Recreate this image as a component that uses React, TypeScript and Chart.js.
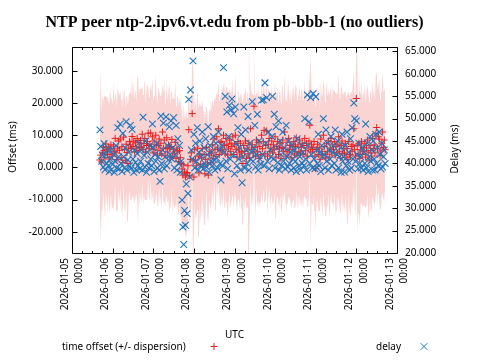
import React, { useEffect, useRef } from 'react';
import { Chart, registerables } from 'chart.js';

Chart.register(...registerables);

const TITLE = 'NTP peer ntp-2.ipv6.vt.edu from pb-bbb-1 (no outliers)';
const X_TITLE = 'UTC';
const Y_TITLE = 'Offset (ms)';
const Y2_TITLE = 'Delay (ms)';
const LEGEND_OFFSET = 'time offset (+/- dispersion)';
const LEGEND_DELAY = 'delay';

const DAY_LABELS = [
  '2026-01-05', '2026-01-06', '2026-01-07', '2026-01-08', '2026-01-09',
  '2026-01-10', '2026-01-11', '2026-01-12', '2026-01-13',
];
const TIME_LABEL = '00:00';
const HOURS_PER_DAY = 24;
const X_MAX_HOURS = 192;
const Y_MIN = -26.6;
const Y_MAX = 37.4;
const Y_STEP = 10;
const Y2_MIN = 20;
const Y2_MAX = 66;
const Y2_STEP = 5;

// samples: hours after 2026-01-05 00:00 UTC, one every half hour
const SAMPLE_START_HOUR = 16.5;
const SAMPLE_STEP_HOUR = 0.5;

const OFFSET_MS = [
  2.3, 3.8, 1.7, 4.5, 6.4, 5.2, 3.0, 7.3, 5.5, 4.0, 6.2, 2.6,
  5.8, 7.0, 4.2, 3.5, 6.6, 5.0, 9.0, 4.5, 2.4, 6.0, 8.2, 5.3,
  8.8, 3.0, 6.4, 1.5, 9.4, 5.5, 2.2, 7.2, 4.6, 1.2, 6.0, 8.0,
  7.0, 5.8, 9.6, 6.5, 8.2, 4.8, 7.6, 6.0, 9.0, 5.2, 7.8, 6.4,
  8.4, 6.2, 10.3, 5.5, 7.4, 9.0, 4.8, 6.8, 8.0, 10.6, 5.8, 7.2,
  10.7, 6.5, 9.5, 4.5, 8.2, 5.6, 10.0, 7.0, 3.8, 6.8, 8.8, 5.2,
  7.5, 4.2, 11.0, 6.0, 8.5, 3.6, 5.8, 9.2, 4.8, 7.0, 6.2, 3.2,
  6.5, 8.7, 3.2, 5.5, 4.2, 7.8, 2.8, 6.0, 4.8, 1.8, 5.2, 3.0,
  1.2, -0.5, -2.4, 0.8, -1.4, -3.0, -2.0, -1.6, 0.5, 11.7, -2.6, 2.5,
  4.5, 16.7, 2.0, -3.0, 5.5, 2.3, 0.5, 6.0, 3.5, -1.7, 4.2, 1.0,
  3.0, 5.8, 0.2, 4.0, -2.0, 2.5, 6.2, 1.0, -2.4, 3.8, 5.0, 1.5,
  4.5, 7.0, 2.8, 8.8, 5.5, 3.5, 9.5, 6.0, 12.0, 4.0, 7.8, 5.2,
  8.0, 5.5, 10.0, 6.8, 4.2, 9.0, 7.2, 3.8, 6.0, 8.5, 5.0, 7.5,
  6.5, 9.5, 4.0, 7.0, 10.0, 5.5, 3.2, 8.0, 6.0, 4.5, 7.5, 5.0,
  3.5, 1.2, 6.8, 5.0, 8.2, 2.8, 6.0, 4.2, 7.5, 3.0, 12.0, 5.5,
  7.0, 4.5, 19.0, 6.2, 3.5, 8.5, 5.0, 7.8, 2.8, 6.5, 4.0, 10.0,
  5.8, 8.0, 11.5, 4.2, 6.8, 11.3, 3.5, 7.2, 9.0, 5.0, 6.0, 8.2,
  4.5, 7.0, 5.5, 9.5, 3.2, 6.5, 8.0, 4.0, 5.8, 7.5, 2.8, 6.2,
  8.5, 5.0, 11.0, 6.0, 3.5, 7.8, 4.8, 9.0, 5.5, 6.8, 3.0, 7.0,
  5.5, 8.0, 4.2, 6.5, 9.2, 3.8, 7.0, 5.0, 8.5, 4.5, 6.2, 7.5,
  4.0, 6.8, 9.0, 5.2, 7.5, 3.5, 6.0, 8.2, 13.1, 4.8, 7.0, 5.5,
  6.3, 8.0, 3.5, -0.4, 5.5, 7.2, 4.0, 6.0, 2.5, 8.8, 5.0, 3.8,
  10.0, 6.5, 4.0, 2.9, 7.5, 5.0, 8.2, 3.2, 6.0, 9.0, 4.5, 7.0,
  5.5, 8.0, 3.8, 6.5, 4.5, 7.2, 9.5, 5.0, 3.0, 6.8, 8.2, 4.2,
  6.0, 4.5, 7.5, 3.2, 5.8, 2.5, 8.0, 4.0, 3.9, 6.5, 5.0, 7.0,
  12.0, 5.5, 3.5, 21.4, 6.8, 4.2, 7.5, 2.8, 5.5, 8.0, 4.0, 6.2,
  5.0, 7.5, 3.2, 6.0, 8.5, 4.5, 2.3, 6.8, 5.2, 3.5, 9.0, 5.8,
  7.0, 4.5, 10.4, 12.4, 6.0, 9.5, 8.8, 3.8, 5.1, 7.5, 11.0, 6.2,
  8.5, 5.5,
];

const DISPERSION_MS = [
  16, 27, 15, 18, 14, 17, 19, 15, 16, 18, 14, 17,
  18, 15, 17, 16, 20, 15, 14, 18, 16, 19, 15, 17,
  15, 18, 16, 17, 14, 19, 16, 15, 17, 18, 16, 15,
  17, 16, 19, 15, 18, 16, 17, 14, 19, 23, 15, 18,
  16, 18, 15, 17, 16, 19, 15, 17, 18, 14, 16, 17,
  15, 17, 18, 16, 14, 17, 19, 15, 16, 18, 15, 17,
  16, 18, 15, 17, 19, 16, 15, 18, 16, 17, 20, 16,
  17, 15, 18, 16, 17, 19, 16, 15, 18, 17, 16, 18,
  17, 18, 16, 19, 17, 18, 20, 17, 18, 16, 19, 17,
  18, 15, 35, 19, 17, 18, 16, 19, 17, 20, 16, 18,
  16, 15, 17, 14, 16, 15, 13, 16, 15, 14, 16, 15,
  15, 14, 16, 13, 15, 17, 14, 16, 15, 16, 14, 17,
  17, 18, 16, 19, 17, 16, 18, 20, 17, 16, 18, 17,
  16, 18, 17, 15, 19, 16, 17, 18, 16, 17, 15, 18,
  17, 19, 16, 18, 17, 16, 18, 17, 34, 19, 16, 18,
  16, 18, 17, 16, 19, 15, 17, 18, 16, 17, 15, 18,
  17, 16, 18, 15, 17, 16, 18, 17, 15, 18, 16, 17,
  16, 18, 15, 17, 19, 16, 17, 15, 18, 16, 17, 19,
  17, 15, 18, 16, 17, 19, 16, 18, 15, 17, 16, 18,
  16, 18, 17, 19, 16, 17, 15, 18, 17, 16, 18, 17,
  17, 16, 18, 15, 17, 16, 18, 17, 16, 30, 18, 17,
  18, 16, 17, 19, 16, 18, 17, 20, 16, 18, 17, 19,
  17, 19, 16, 18, 20, 17, 16, 19, 18, 17, 16, 18,
  18, 16, 19, 17, 18, 16, 20, 17, 18, 19, 16, 18,
  17, 19, 16, 18, 17, 20, 16, 18, 19, 17, 18, 16,
  18, 17, 19, 17, 28, 16, 22, 21, 17, 19, 16, 18,
  17, 19, 16, 18, 17, 19, 18, 16, 19, 17, 18, 16,
  18, 16, 19, 17, 18, 16, 19, 17, 18, 16, 19, 17,
  16, 18,
];

const DELAY_MS = [
  47.5, 43.8, 40.5, 41.9, 39.2, 44.4, 38.6, 42.0, 40.0, 43.0, 39.5, 38.2,
  41.0, 38.5, 43.2, 39.8, 42.0, 38.0, 40.5, 44.0, 39.0, 48.0, 41.5, 38.8,
  48.8, 40.0, 38.2, 46.7, 41.5, 39.0, 43.5, 49.3, 38.5, 40.8, 42.5, 39.5,
  48.5, 39.0, 47.6, 41.0, 38.0, 43.0, 40.2, 38.5, 42.2, 39.5, 44.5, 38.8,
  40.5, 43.0, 38.5, 50.3, 41.8, 39.2, 45.0, 38.0, 42.5, 40.0, 39.0, 44.0,
  41.0, 39.5, 48.8, 43.5, 38.2, 42.0, 40.5, 44.5, 39.0, 41.5, 38.5, 36.0,
  50.6, 40.0, 43.0, 49.0, 38.8, 41.5, 50.4, 39.5, 44.0, 40.8, 48.2, 42.0,
  49.5, 41.0, 43.5, 50.2, 39.0, 42.0, 48.5, 38.5, 45.5, 40.0, 44.0, 38.0,
  40.5, 31.8, 25.8, 21.9, 29.5, 26.2, 35.4, 28.8, 33.3, 54.3, 37.0, 56.4,
  43.0, 41.0, 62.9, 46.5, 39.0, 44.5, 40.5, 48.0, 38.5, 42.5, 45.0, 39.5,
  41.5, 47.0, 38.8, 43.5, 40.0, 45.5, 39.2, 42.0, 48.2, 38.0, 44.0, 40.5,
  42.5, 39.5, 46.0, 40.8, 38.5, 44.5, 41.2, 39.0, 47.0, 43.0, 40.0, 36.3,
  44.0, 39.5, 61.4, 42.5, 55.0, 40.5, 51.5, 38.8, 46.0, 53.0, 41.0, 52.0,
  54.4, 42.0, 51.1, 37.7, 52.6, 44.5, 39.5, 48.0, 41.0, 43.5, 38.5, 46.5,
  35.7, 41.5, 52.6, 39.0, 47.5, 43.0, 40.0, 50.5, 38.5, 44.5, 41.0, 42.5,
  53.8, 40.5, 43.5, 48.5, 39.2, 42.0, 51.0, 38.5, 45.0, 41.0, 39.8, 54.1,
  42.0, 54.2, 39.5, 58.0, 44.5, 54.7, 40.5, 47.0, 38.8, 43.0, 41.5, 46.0,
  55.0, 41.0, 51.0, 39.0, 48.2, 43.5, 40.2, 49.5, 38.5, 45.0, 42.0, 39.5,
  47.0, 40.5, 43.5, 38.8, 48.5, 41.5, 39.2, 45.0, 40.0, 42.5, 38.5, 44.0,
  41.0, 39.0, 43.0, 40.5, 38.2, 45.5, 42.0, 39.5, 41.5, 38.5, 44.0, 40.0,
  42.5, 39.5, 50.0, 41.0, 38.5, 55.3, 44.0, 49.3, 40.0, 54.7, 42.0, 39.0,
  55.6, 41.0, 38.8, 54.9, 43.0, 40.0, 46.5, 39.5, 42.5, 38.2, 44.0, 41.5,
  50.0, 42.0, 39.0, 47.5, 40.5, 44.5, 38.5, 43.0, 41.0, 46.0, 39.5, 42.5,
  44.0, 40.0, 47.5, 38.5, 42.0, 45.0, 39.0, 41.5, 43.5, 38.0, 46.5, 40.5,
  41.5, 38.1, 44.0, 39.5, 47.0, 40.5, 42.5, 38.5, 45.5, 39.0, 48.0, 41.0,
  53.5, 50.0, 40.5, 49.5, 42.0, 38.8, 44.5, 40.0, 41.5, 39.0, 43.5, 38.5,
  42.5, 40.0, 48.8, 39.0, 44.5, 38.2, 41.5, 46.0, 40.5, 43.0, 38.5, 45.0,
  41.0, 38.5, 46.5, 40.0, 43.5, 39.5, 47.0, 42.0, 38.8, 44.5, 39.2, 41.5,
  43.0, 40.0,
];

const RED = '#ee1c1c';
const BLUE = '#1a78bf';
const BAND = 'rgba(240,128,128,0.35)';
const SANS = "'Noto Sans', sans-serif";
const SERIF = "'Liberation Serif', serif";

const decorPlugin = {
  id: 'decor',
  afterDraw(chart: any) {
    const { ctx, chartArea: a, scales } = chart;
    const L = Math.round(a.left) + 0.5;
    const R = Math.round(a.right) + 0.5;
    const T = Math.round(a.top) + 0.5;
    const B = Math.round(a.bottom) + 0.5;
    ctx.save();
    ctx.strokeStyle = '#000';
    ctx.lineWidth = 1;
    ctx.beginPath();
    for (const t of scales.y.ticks) {
      const y = Math.round(scales.y.getPixelForValue(t.value)) + 0.5;
      ctx.moveTo(L, y); ctx.lineTo(L + 5, y);
    }
    for (const t of scales.y2.ticks) {
      const y = Math.round(scales.y2.getPixelForValue(t.value)) + 0.5;
      ctx.moveTo(R, y); ctx.lineTo(R - 5, y);
    }
    for (let h = 0; h <= X_MAX_HOURS; h += 6) {
      const x = Math.round(scales.x.getPixelForValue(h)) + 0.5;
      const len = h % HOURS_PER_DAY === 0 ? 5 : 2.5;
      ctx.moveTo(x, B); ctx.lineTo(x, B - len);
      ctx.moveTo(x, T); ctx.lineTo(x, T + len);
    }
    ctx.rect(L, T, R - L, B - T);
    ctx.stroke();

    ctx.fillStyle = '#000';
    ctx.textBaseline = 'middle';
    ctx.textAlign = 'center';
    ctx.font = `bold 16px ${SERIF}`;
    ctx.fillText(TITLE, (a.left + a.right) / 2, 23);

    ctx.font = `10px ${SANS}`;
    ctx.fillText(X_TITLE, (a.left + a.right) / 2, 335);

    ctx.save();
    ctx.translate(13, 147);
    ctx.rotate(-Math.PI / 2);
    ctx.fillText(Y_TITLE, 0, 0);
    ctx.restore();

    ctx.save();
    ctx.translate(455, 149);
    ctx.rotate(-Math.PI / 2);
    ctx.fillText(Y2_TITLE, 0, 0);
    ctx.restore();

    // legend
    ctx.textAlign = 'left';
    ctx.fillText(LEGEND_OFFSET, 62, 347);
    ctx.fillText(LEGEND_DELAY, 376, 347);
    ctx.lineWidth = 1;
    ctx.strokeStyle = RED;
    ctx.beginPath();
    ctx.moveTo(210.5, 346.5); ctx.lineTo(217.5, 346.5);
    ctx.moveTo(214, 343); ctx.lineTo(214, 350);
    ctx.stroke();
    ctx.strokeStyle = BLUE;
    ctx.beginPath();
    ctx.moveTo(420.7, 343.2); ctx.lineTo(427.3, 349.8);
    ctx.moveTo(420.7, 349.8); ctx.lineTo(427.3, 343.2);
    ctx.stroke();
    ctx.restore();
  },
};

export default function App() {
  const ref = useRef<HTMLCanvasElement>(null);
  useEffect(() => {
    const canvas = ref.current!;
    const times = OFFSET_MS.map((_, i) => SAMPLE_START_HOUR + i * SAMPLE_STEP_HOUR);
    const tickFont = { family: SANS, size: 10 };
    const chart = new Chart(canvas, {
      type: 'line',
      data: {
        datasets: [
          {
            label: 'lower',
            data: OFFSET_MS.map((v, i) => ({ x: times[i], y: v - DISPERSION_MS[i] })),
            yAxisID: 'y', borderWidth: 0, borderColor: 'transparent', pointRadius: 0,
            fill: false, order: 3, tension: 0,
          },
          {
            label: 'upper',
            data: OFFSET_MS.map((v, i) => ({ x: times[i], y: v + DISPERSION_MS[i] })),
            yAxisID: 'y', borderWidth: 0, borderColor: 'transparent', pointRadius: 0,
            fill: '-1', backgroundColor: BAND, order: 3, tension: 0,
          },
          {
            label: LEGEND_OFFSET,
            data: OFFSET_MS.map((v, i) => ({ x: times[i], y: v })),
            yAxisID: 'y', showLine: false, pointStyle: 'cross', pointRadius: 3.5,
            borderColor: RED, backgroundColor: RED, pointBorderWidth: 1, order: 1,
          },
          {
            label: LEGEND_DELAY,
            data: DELAY_MS.map((v, i) => ({ x: times[i], y: v })),
            yAxisID: 'y2', showLine: false, pointStyle: 'crossRot', pointRadius: 4.7,
            borderColor: BLUE, backgroundColor: BLUE, pointBorderWidth: 1.1, order: 0,
          },
        ],
      },
      options: {
        animation: false,
        responsive: false,
        events: [],
        layout: { padding: { top: 47, left: 0, right: 0, bottom: 0 } },
        plugins: {
          legend: { display: false },
          title: { display: false },
          tooltip: { enabled: false },
        },
        scales: {
          x: {
            type: 'linear', position: 'bottom', min: 0, max: X_MAX_HOURS,
            afterFit: (s: any) => { s.height = 107; },
            grid: { display: false, drawTicks: false },
            border: { display: false },
            ticks: {
              stepSize: HOURS_PER_DAY, autoSkip: false, minRotation: 90, maxRotation: 90,
              padding: 5, labelOffset: -7.3, color: '#000',
              font: { family: SANS, size: 10, lineHeight: 1.47 },
              callback: (v: any) => [DAY_LABELS[Math.round(Number(v) / HOURS_PER_DAY)], TIME_LABEL],
            },
          },
          y: {
            type: 'linear', position: 'left', min: Y_MIN, max: Y_MAX,
            afterFit: (s: any) => { s.width = 72; },
            grid: { display: false, drawTicks: false },
            border: { display: false },
            ticks: {
              stepSize: Y_STEP, includeBounds: false, padding: 9, color: '#000', font: tickFont,
              callback: (v: any) => Number(v).toFixed(3),
            },
          },
          y2: {
            type: 'linear', position: 'right', min: Y2_MIN, max: Y2_MAX,
            afterFit: (s: any) => { s.width = 83; },
            grid: { display: false, drawTicks: false },
            border: { display: false },
            ticks: {
              stepSize: Y2_STEP, includeBounds: false, padding: 8, color: '#000', font: tickFont,
              callback: (v: any) => Number(v).toFixed(3),
            },
          },
        },
      },
      plugins: [decorPlugin],
    } as any);
    return () => chart.destroy();
  }, []);
  return (
    <div style={{ position: 'absolute', left: 0, top: 0, width: 480, height: 360, background: '#fff' }}>
      <canvas ref={ref} width={480} height={360} style={{ display: 'block' }} />
    </div>
  );
}
